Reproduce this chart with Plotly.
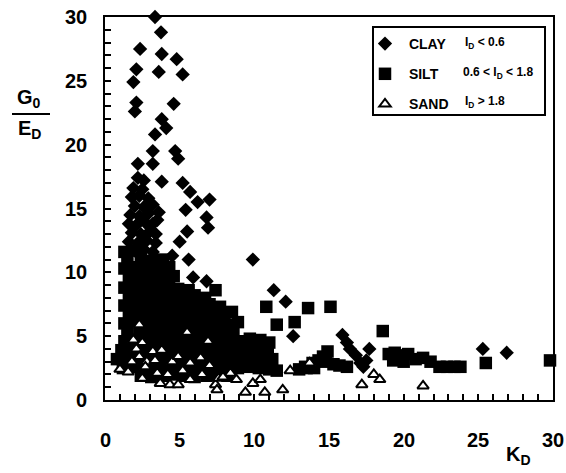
import plotly.graph_objects as go

# ---------------- data ----------------
clay_k = [3.35, 3.75, 2.35, 3.8, 4.8, 2.1, 3.6, 5.2, 1.9, 2.1, 2.0, 4.6, 3.8, 4.1, 3.35,
          3.2, 4.7, 4.9, 2.2, 3.2, 3.8, 5.2, 5.7, 6.2, 7.0, 5.4, 3.6, 6.8, 6.9, 5.5, 5.0,
          4.5, 5.6, 5.9, 6.8, 3.5,
          2.2, 2.6, 1.9, 2.5, 1.8, 2.3, 2.9, 2.0, 2.6, 3.2, 1.7, 2.3, 2.9, 1.6, 2.1, 2.7,
          3.2, 1.8, 2.4, 3.0, 3.4, 1.6, 2.2, 2.8, 3.4, 2.0, 2.6, 3.2,
          2.5, 3.3, 4.0, 1.9, 4.4,
          9.9, 11.3, 12.1, 12.6, 15.9, 16.4, 17.7, 17.5, 16.2, 16.8, 17.1, 17.3, 25.3, 26.9]
clay_g = [30.0, 28.8, 27.5, 27.1, 26.7, 25.9, 25.7, 25.5, 24.9, 23.3, 22.6, 23.2, 22.0, 21.3, 20.8,
          19.5, 19.5, 18.9, 18.5, 18.5, 17.1, 17.0, 16.3, 15.5, 15.7, 14.9, 14.7, 14.3, 13.5, 13.2, 12.4,
          11.3, 11.0, 9.6, 9.3, 14.1,
          17.4, 17.2, 16.6, 16.5, 15.9, 16.0, 15.8, 15.2, 15.1, 15.3, 14.5, 14.4, 14.6, 13.8, 13.7, 13.9,
          13.8, 13.1, 13.0, 13.2, 13.0, 12.4, 12.3, 12.5, 12.3, 11.7, 11.8, 11.6,
          9.2, 10.0, 10.6, 8.5, 9.0,
          11.0, 8.6, 7.7, 5.0, 5.1, 4.0, 4.0, 3.1, 4.5, 3.5, 2.9, 2.6, 4.0, 3.7]

silt_k = [1.3, 1.9,
          1.5, 2.4, 3.1, 3.9,
          1.3, 2.0, 2.7, 3.5, 4.3,
          1.6, 2.3, 3.0, 3.8, 4.6,
          1.3, 2.0, 2.8, 3.4, 4.1, 4.9, 5.6,
          1.6, 2.4, 3.1, 3.8, 4.5, 5.3, 6.0, 6.7, 7.4,
          1.3, 2.0, 2.7, 3.5, 4.2, 4.9, 5.6, 6.3, 7.0, 7.7,
          1.6, 2.3, 3.0, 3.8, 4.5, 5.2, 5.9, 6.6, 7.3, 8.0, 8.5,
          1.3, 2.0, 2.7, 3.4, 4.1, 4.8, 5.5, 6.2, 6.9, 7.6, 8.3, 8.9,
          1.5, 2.3, 3.0, 3.7, 4.4, 5.1, 5.8, 6.5, 7.2, 7.9, 8.6,
          1.3, 2.0, 2.8, 3.5, 4.2, 4.9, 5.6, 6.3, 7.0, 7.7, 8.4, 9.1, 9.7, 10.4, 11.0,
          1.1, 1.8, 2.5, 3.2, 3.9, 4.6, 5.3, 6.0, 6.7, 7.4, 8.1, 8.8, 9.5, 10.2, 10.9,
          0.8, 1.5, 2.2, 2.9, 3.6, 4.3, 5.0, 5.7, 6.4, 7.1, 7.8, 8.5, 9.2, 9.9, 10.6, 11.2,
          1.2, 1.9, 2.6, 3.3, 4.0, 4.7, 5.4, 6.1, 6.8, 7.5, 8.2, 8.9, 9.6, 10.3, 11.0,
          2.4, 3.1, 3.9, 4.6, 5.3, 6.0, 6.8, 7.5, 8.2,
          10.8, 11.5, 12.7, 13.6, 15.1, 18.6, 14.9, 11.5, 13.0, 13.5,
          13.4, 13.9, 14.3, 14.8, 15.3, 15.7, 16.2, 14.0, 14.6,
          19.0, 19.4, 19.8, 20.3, 20.0, 20.8, 21.3, 21.8, 19.3,
          22.4, 22.9, 23.4, 23.8, 25.5, 29.8]
silt_g = [11.6, 11.7,
          11.0, 11.1, 10.9, 11.0,
          10.3, 10.4, 10.2, 10.3, 10.4,
          9.6, 9.7, 9.5, 9.6, 9.7,
          8.8, 8.9, 8.7, 8.8, 8.9, 8.7, 8.6,
          8.1, 8.0, 8.2, 8.1, 8.0, 8.1, 8.2, 8.0, 8.6,
          7.4, 7.5, 7.3, 7.4, 7.5, 7.4, 7.3, 7.4, 7.5, 7.3,
          6.7, 6.6, 6.8, 6.7, 6.6, 6.7, 6.8, 6.7, 6.6, 6.8, 6.9,
          6.0, 6.1, 5.9, 6.0, 6.1, 6.0, 5.9, 6.0, 6.1, 6.0, 5.9, 6.1,
          5.3, 5.4, 5.2, 5.3, 5.4, 5.3, 5.2, 5.3, 5.4, 5.3, 5.2,
          4.6, 4.7, 4.5, 4.6, 4.7, 4.6, 4.5, 4.6, 4.7, 4.6, 4.5, 4.6, 4.8, 4.7, 4.5,
          3.9, 4.0, 3.8, 3.9, 4.0, 3.9, 3.8, 3.9, 4.0, 3.9, 3.8, 3.9, 4.0, 3.9, 3.8,
          3.2, 3.3, 3.1, 3.2, 3.3, 3.2, 3.1, 3.2, 3.3, 3.2, 3.1, 3.2, 3.3, 3.2, 3.1, 3.2,
          2.5, 2.6, 2.4, 2.5, 2.6, 2.5, 2.4, 2.5, 2.6, 2.5, 2.4, 2.5, 2.6, 2.5, 2.4,
          1.9, 1.8, 1.9, 2.0, 1.9, 1.8, 1.9, 2.0, 1.9,
          7.3, 5.9, 6.1, 7.2, 7.3, 5.4, 3.8, 2.3, 2.4, 2.5,
          2.6, 2.9, 3.1, 3.0, 2.8, 2.7, 2.6, 2.5, 3.4,
          3.6, 3.7, 3.5, 3.6, 3.0, 3.2, 3.3, 3.0, 3.1,
          2.6, 2.6, 2.6, 2.6, 2.9, 3.1]

sand_k = [2.3, 5.5, 6.9, 1.9, 2.5, 2.1, 3.2, 3.8, 1.8, 2.3, 2.8, 3.35, 4.5, 4.9, 5.7, 6.4, 7.0,
          1.0, 1.55, 2.5, 3.7, 4.2, 4.35, 4.9, 5.7, 6.5, 7.4, 7.6, 8.4, 3.5, 7.5, 7.9,
          8.8, 9.4, 9.9, 10.4, 10.7, 11.9, 12.4, 13.7, 17.2, 18.0, 18.4, 21.3, 2.7, 5.2]
sand_g = [5.9, 5.3, 4.6, 4.7, 4.5, 4.0, 3.8, 3.9, 3.0, 3.4, 3.0, 3.1, 3.0, 3.4, 2.9, 3.3, 2.7,
          2.4, 2.2, 1.7, 1.3, 2.0, 1.2, 1.2, 1.6, 2.0, 1.2, 1.7, 2.1, 2.1, 0.8, 1.8,
          1.6, 0.6, 1.3, 1.6, 0.6, 0.8, 2.3, 2.9, 1.2, 2.0, 1.6, 1.1, 2.6, 2.3]

x_ticks = [0, 5, 10, 15, 20, 25, 30]
y_ticks = [0, 5, 10, 15, 20, 25, 30]
tick_steps = list(range(0, 31))          # small tick every unit

FONT = "Liberation Sans"

PL, PR, PT, PB = 105, 553, 17, 400          # plot area in page pixels
W, H = 566, 473


def px(x):
    return (x - PL) / (PR - PL)


def py(y):
    return (PB - y) / (PB - PT)


fig = go.Figure()
fig.add_trace(go.Scatter(x=clay_k, y=clay_g, mode="markers", name="&nbsp;CLAY", legendgroup="a",
                         cliponaxis=False,
                         marker=dict(symbol="diamond", size=11, color="black", line=dict(width=0))))
fig.add_trace(go.Scatter(x=silt_k, y=silt_g, mode="markers", name="&nbsp;SILT", legendgroup="b",
                         cliponaxis=False,
                         marker=dict(symbol="square", size=12.5, color="black", line=dict(width=0))))
fig.add_trace(go.Scatter(x=sand_k, y=sand_g, mode="markers", name="&nbsp;SAND", legendgroup="c",
                         cliponaxis=False,
                         marker=dict(symbol="triangle-up", size=10, color="white",
                                     line=dict(width=2, color="black"))))

tick_font = dict(family=FONT, size=20, color="black", weight="bold")

# frame + small inside ticks every unit (numbers are placed as labels below)
frame_axis = dict(
    range=[0, 30], showgrid=False, zeroline=False, showline=True, linewidth=2,
    linecolor="black", mirror=True, ticks="inside", ticklen=6, tickwidth=2,
    tickcolor="black", tickmode="array", tickvals=tick_steps, showticklabels=False,
)
spare_axis = dict(
    range=[0, 30], showgrid=False, zeroline=False, showline=False, ticks="",
    tickmode="array", tickfont=tick_font,
)
fig.update_layout(
    xaxis=frame_axis, yaxis=frame_axis,
    xaxis2=dict(**spare_axis, tickvals=x_ticks, overlaying="x", anchor="y", side="bottom"),
    yaxis2=dict(**spare_axis, tickvals=y_ticks, overlaying="y", anchor="x", side="left"),
)

ann_font_small = dict(family=FONT, size=12, color="black", weight="bold")
ann_font_big = dict(family=FONT, size=20, color="black", weight="bold")

annotations = []
# x tick labels: positioned on the x scale, below the frame
for v in x_ticks:
    annotations.append(dict(text=str(v), x=v, xref="x", y=py(440), yref="paper",
                            xanchor="center", yanchor="middle", showarrow=False,
                            font=ann_font_big))
# y tick labels: positioned on the y scale, left of the frame
for v in y_ticks:
    annotations.append(dict(text=str(v), x=px(89), xref="paper", y=v, yref="y",
                            xanchor="right", yanchor="middle", showarrow=False,
                            font=ann_font_big))

annotations += [
    dict(text="I<sub>D</sub> &lt; 0.6", x=px(463), y=py(43),
         xref="paper", yref="paper", xanchor="left", yanchor="middle", showarrow=False,
         font=ann_font_small),
    dict(text="0.6 &lt; I<sub>D</sub> &lt; 1.8", x=px(461), y=py(73),
         xref="paper", yref="paper", xanchor="left", yanchor="middle", showarrow=False,
         font=ann_font_small),
    dict(text="I<sub>D</sub> &gt; 1.8", x=px(463), y=py(102),
         xref="paper", yref="paper", xanchor="left", yanchor="middle", showarrow=False,
         font=ann_font_small),
    dict(text="G<sub>0</sub>", x=px(29), y=py(99),
         xref="paper", yref="paper", xanchor="center", yanchor="middle", showarrow=False,
         font=ann_font_big),
    dict(text="E<sub>D</sub>", x=px(29), y=py(129),
         xref="paper", yref="paper", xanchor="center", yanchor="middle", showarrow=False,
         font=ann_font_big),
    dict(text="K<sub>D</sub>", x=px(518), y=py(455),
         xref="paper", yref="paper", xanchor="center", yanchor="middle", showarrow=False,
         font=ann_font_big),
]

fig.update_layout(
    width=W, height=H,
    margin=dict(l=PL, r=W - PR, t=PT, b=H - PB, autoexpand=False),
    paper_bgcolor="white", plot_bgcolor="white",
    showlegend=True,
    legend=dict(x=px(365), y=py(28), xanchor="left", yanchor="top",
                bgcolor="rgba(0,0,0,0)", borderwidth=0,
                traceorder="grouped", tracegroupgap=9, itemwidth=30,
                font=dict(family=FONT, size=14, color="black", weight="bold")),
    shapes=[
        dict(type="rect", xref="paper", yref="paper",
             x0=px(373), x1=px(545), y0=py(115), y1=py(27),
             line=dict(color="black", width=2)),
        dict(type="line", xref="paper", yref="paper",
             x0=px(12), x1=px(50), y0=py(114), y1=py(114),
             line=dict(color="black", width=2)),
    ],
    annotations=annotations,
)

fig.write_html("out.html", config={"displayModeBar": False},
               post_script="document.body.style.margin='0';document.body.style.overflow='hidden';")
